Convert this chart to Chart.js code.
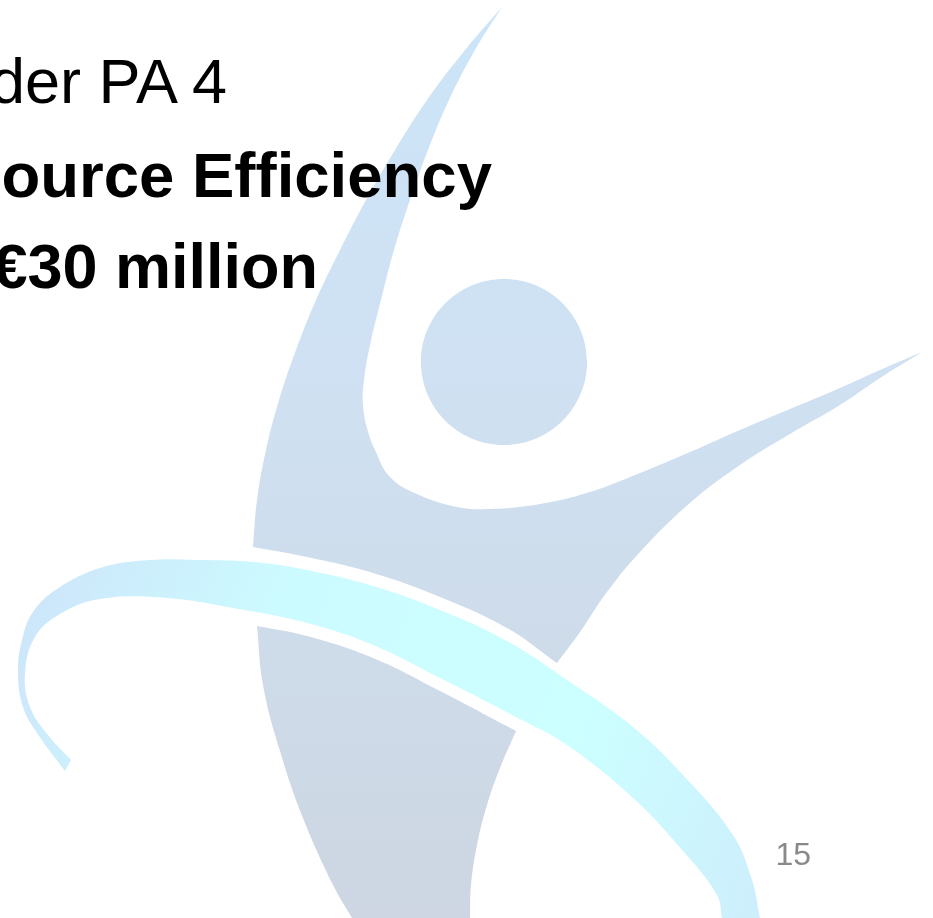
<!DOCTYPE html>
<html><head><meta charset="utf-8">
<script src="https://cdn.jsdelivr.net/npm/chart.js@4.4.1/dist/chart.umd.min.js"></script>
<style>
html,body{margin:0;padding:0;width:933px;height:918px;overflow:hidden;background:#fff;}
#wrap{position:relative;width:933px;height:918px;overflow:hidden;}
#c{position:absolute;left:0;top:0;}
.t{position:absolute;white-space:nowrap;font-family:"Liberation Sans",Arial,sans-serif;color:#000;line-height:1;}
</style></head><body>
<div id="wrap">
<canvas id="c" width="933" height="918"></canvas>
<div class="t" style="right:706px;top:50px;font-size:63px;">der PA 4</div>
<div class="t" style="right:441px;top:144px;font-size:63.5px;font-weight:bold;">ource Efficiency</div>
<div class="t" style="right:615px;top:235px;font-size:63px;font-weight:bold;">€30 million</div>
<div class="t" style="right:122px;top:838px;font-size:32px;color:#898989;">15</div>
</div>
<script>
// Outline of the figure's upper body (back arc, shoulder and raised arm), x/y in page units
const upperBody = [[502,7],[475,50],[449,100],[428,150],[410,200],[394,250],[381,300],[370,345],[364,380],[363,405],
  [367,428],[375,450],[390,477],[417,494],[457,507],[490,509],[540,504],[590,492],[640,473],[690,452],[740,430],
  [790,409],[840,388],[880,370],[922,352],
  [880,378],[840,405],[790,434],[740,465],[690,503],[640,552],[607,592],[580,632],[557,663],
  [507,628],[440,597],[373,573],[307,557],[253,547],
  [257,500],[266,450],[279,400],[296,350],[316,300],[340,250],[366,200],[395,150],[427,100],[465,50],[502,7]];
const upperCorners = [0,24,33,38,49];
// Lower body (leg)
const lowerBody = [[257,626],[307,636],[373,658],[440,691],[516,731],[500,768],[487,805],[477,845],[471,885],[470,918],
  [352,918],[333,885],[303,818],[280,751],[263,685],[257,626]];
const lowerCorners = [0,4,9,10,15];
// Swoosh ring
const ring = [[65,771],[37,733],[23,707],[18,673],[22,640],[33,612],[57,589],[100,568],[150,560],[200,560],[253,562],
  [307,570],[373,586],[440,610],[507,641],[567,680],[633,727],[683,775],[733,835],[752,880],[760,918],
  [722,918],[717,895],[683,851],[633,798],[567,745],[516,717],[440,678],[373,645],[307,623],[233,608],[167,598],
  [100,599],[60,614],[35,637],[25,673],[30,707],[48,735],[71,760],[65,771]];
const ringCorners = [0,20,21,38,39];
// Head: top, right, bottom, left extremes (walked round past the start so the curve closes smoothly)
const head = [[504,279],[587,362],[504,445],[421,362],[504,279],[587,362],[504,445]];

const bodyStops = [[0,'#cce5f8'],[0.4,'#cfe1f2'],[1,'#cdd6e2']];
const ringStops = [[0,'#cde5fa'],[0.3,'#ccfbff'],[0.7,'#ccffff'],[1,'#cdeefc']];

function toXY(pts, corners){
  const out=[];
  pts.forEach((p,i)=>{
    out.push({x:p[0],y:p[1]});
    if(corners.includes(i) && i>0 && i<pts.length-1) out.push({x:p[0],y:p[1]});
  });
  return out;
}
function vGrad(ctx){
  const c=ctx.chart, a=c.chartArea;
  if(!a) return bodyStops[1][1];
  const g=c.ctx.createLinearGradient(0,a.top,0,a.bottom);
  bodyStops.forEach(s=>g.addColorStop(s[0],s[1]));
  return g;
}
function rGrad(ctx){
  const c=ctx.chart, a=c.chartArea;
  if(!a) return ringStops[2][1];
  const xs=c.scales.x, ys=c.scales.y;
  const g=c.ctx.createLinearGradient(xs.getPixelForValue(20),ys.getPixelForValue(600),xs.getPixelForValue(760),ys.getPixelForValue(918));
  ringStops.forEach(s=>g.addColorStop(s[0],s[1]));
  return g;
}
const shapeDs = (label, data, bg, tension) => ({type:'line', label, data, fill:'shape', backgroundColor:bg,
  borderWidth:0, borderColor:'rgba(0,0,0,0)', pointRadius:0, pointHoverRadius:0, tension:tension});

new Chart(document.getElementById('c'), {
  type:'scatter',
  data:{datasets:[
    shapeDs('head', toXY(head, []), vGrad, 0.5523),
    shapeDs('upper', toXY(upperBody, upperCorners), vGrad, 0.4),
    shapeDs('lower', toXY(lowerBody, lowerCorners), vGrad, 0.4),
    shapeDs('ring', toXY(ring, ringCorners), rGrad, 0.4)
  ]},
  options:{
    responsive:false, animation:false, events:[],
    layout:{padding:0},
    plugins:{legend:{display:false}, tooltip:{enabled:false}, title:{display:false}},
    scales:{
      x:{type:'linear', min:0, max:933, display:false},
      y:{type:'linear', min:0, max:918, reverse:true, display:false}
    }
  }
});
</script>
</body></html>
